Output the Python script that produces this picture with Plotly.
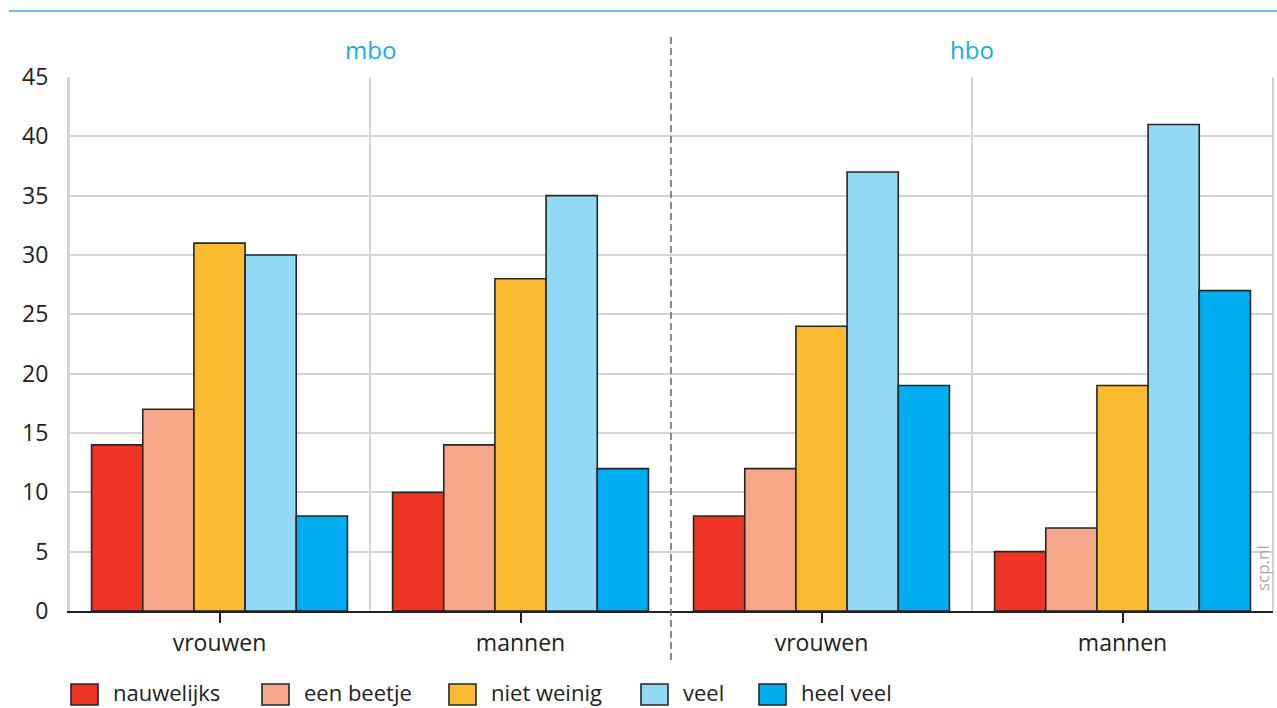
import plotly.graph_objects as go

groups = ["mbo", "mbo", "hbo", "hbo"]
categories = ["vrouwen", "mannen", "vrouwen", "mannen"]
series_names = ["nauwelijks", "een beetje", "niet weinig", "veel", "heel veel"]
nauwelijks = [14, 10, 8, 5]
een_beetje = [17, 14, 12, 7]
niet_weinig = [31, 28, 24, 19]
veel = [30, 35, 37, 41]
heel_veel = [8, 12, 19, 27]
y_ticks = [0, 5, 10, 15, 20, 25, 30, 35, 40, 45]

series_values = [nauwelijks, een_beetje, niet_weinig, veel, heel_veel]
colors = ["#ee3424", "#f7a789", "#fbbb30", "#92d9f7", "#00aeef"]

x_pos = list(range(len(categories)))
FONT = "Open Sans"
TXT = "#222222"

W, H = 1277, 708
ML, MR, MT, MB = 69, 4, 77, 97
PW, PH = W - ML - MR, H - MT - MB


def px(xp):
    return (xp - ML) / PW


def py(yp):
    return (H - MB - yp) / PH


fig = go.Figure()
for name, vals, col in zip(series_names, series_values, colors):
    fig.add_trace(go.Bar(
        x=x_pos, y=vals, name=name,
        marker=dict(color=col, line=dict(color="#262626", width=1.6)),
        hoverinfo="name+y", showlegend=False,
    ))

shapes = []
for i in range(len(categories) + 1):
    b = i - 0.5
    if i == 2:
        continue
    shapes.append(dict(type="line", xref="x", yref="y", x0=b, x1=b, y0=0, y1=45,
                       line=dict(color="#d4d4d4", width=2), layer="below"))
# dashed separator between mbo and hbo
shapes.append(dict(type="line", xref="x", yref="paper", x0=1.5, x1=1.5, y0=py(660), y1=py(33),
                   line=dict(color="#666666", width=1.5, dash="7px,4px"), layer="above"))
# top blue rule
shapes.append(dict(type="line", xref="paper", yref="paper", x0=px(9), x1=px(1280), y0=py(11), y1=py(11),
                   line=dict(color="#4da3dc", width=1.5)))

annotations = []
for g in ["mbo", "hbo"]:
    idx = [i for i, gg in enumerate(groups) if gg == g]
    xc = sum(idx) / len(idx)
    annotations.append(dict(x=xc, y=py(50), xref="x", yref="paper", text=g, showarrow=False,
                            font=dict(family=FONT, size=24, color="#13aee8"), yanchor="middle"))
annotations.append(dict(x=px(1262), y=py(568), xref="paper", yref="paper", text="scp.nl", textangle=-90,
                        showarrow=False, font=dict(family=FONT, size=17, color="#a8a8a8"),
                        xanchor="center", yanchor="middle"))

# custom legend (boxes + labels)
legend_box_left = [71, 262, 449, 641, 759]
for name, col, bx in zip(series_names, colors, legend_box_left):
    shapes.append(dict(type="rect", xref="paper", yref="paper",
                       x0=px(bx), x1=px(bx + 27), y0=py(705), y1=py(684),
                       fillcolor=col, line=dict(color="#262626", width=1.6)))
    annotations.append(dict(x=px(bx + 40), y=py(692), xref="paper", yref="paper", text=name,
                            showarrow=False, xanchor="left", yanchor="middle",
                            font=dict(family=FONT, size=22, color=TXT)))

fig.update_layout(
    width=W, height=H,
    margin=dict(l=ML, r=MR, t=MT, b=MB),
    paper_bgcolor="white", plot_bgcolor="white",
    barmode="group", bargap=0.15, bargroupgap=0,
    font=dict(family=FONT, size=23, color=TXT),
    shapes=shapes, annotations=annotations,
    showlegend=False,
    xaxis=dict(range=[-0.5, 3.5], tickmode="array", tickvals=x_pos, ticktext=categories,
               showgrid=False, zeroline=False, showline=True, linecolor="#222222", linewidth=2,
               ticks="outside", ticklen=10, tickwidth=1.5, tickcolor="#222222",
               tickfont=dict(family=FONT, size=23, color=TXT), automargin=False, fixedrange=True),
    yaxis=dict(range=[0, 45], tickmode="array", tickvals=y_ticks, showgrid=True,
               gridcolor="#d4d4d4", gridwidth=2, zeroline=False, showline=True,
               linecolor="#d4d4d4", linewidth=2, ticks="", ticklabelstandoff=14,
               tickfont=dict(family=FONT, size=23, color=TXT), automargin=False, fixedrange=True),
)
fig.add_shape(type="line", xref="paper", yref="y", x0=1, x1=1, y0=0, y1=45,
              line=dict(color="#d4d4d4", width=2), layer="below")

fig.write_html("out.html", config={"displayModeBar": False},
               post_script="document.body.style.margin='0';document.body.style.overflow='hidden';")
